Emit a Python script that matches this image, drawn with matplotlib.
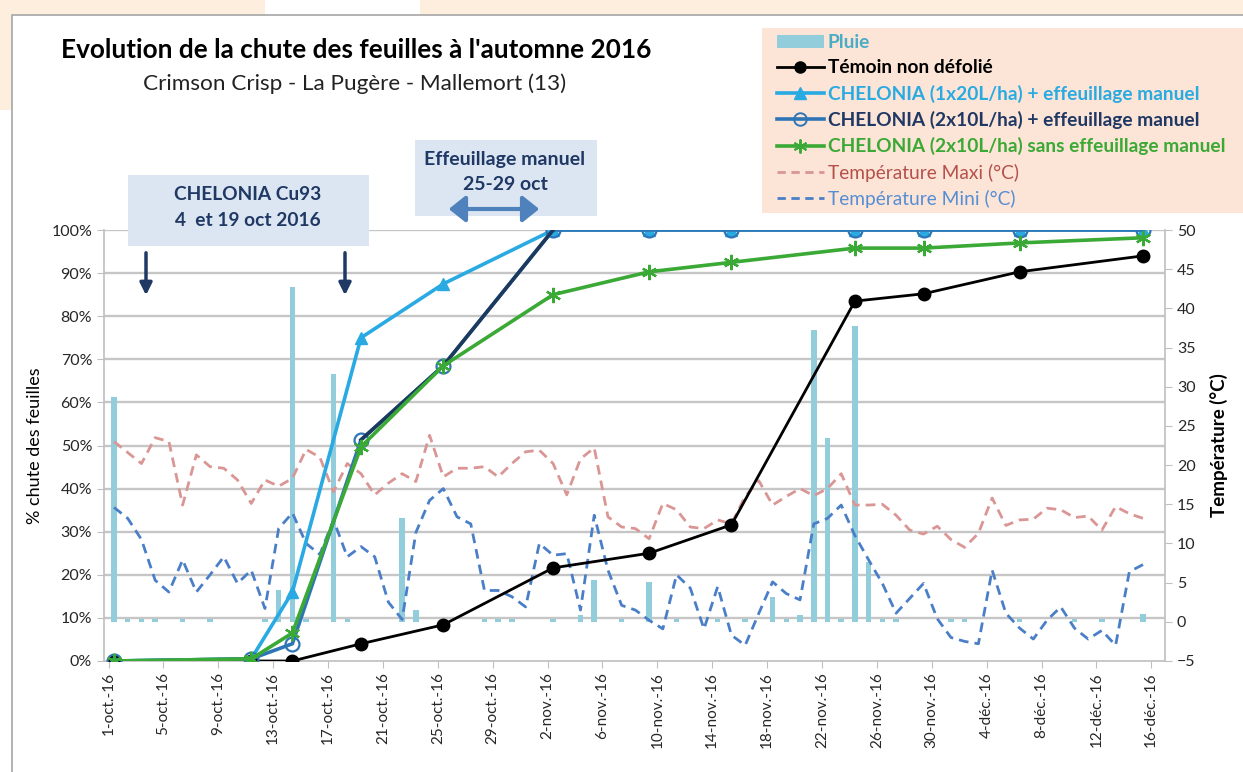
import numpy as np
import pandas as pd
import matplotlib
matplotlib.use('Agg')
import matplotlib.pyplot as plt
from matplotlib.patches import Rectangle, FancyArrowPatch, Patch
from matplotlib.lines import Line2D

plt.rcParams['font.family'] = ['Lato', 'DejaVu Sans']

# Daily weather, 1 oct -> 15 dec 2016
start = pd.Timestamp('2016-10-01')
days = pd.date_range('2016-10-01', '2016-12-15')

rain = [28.7, 0.3, 0.3, 0.3, 0, 0.3, 0, 0.3, 0, 0, 0, 0.3, 4.1, 42.7, 0.3, 0,
        31.6, 0.3, 0, 0, 0, 13.2, 1.5, 0, 0, 0, 0, 0.3, 0.3, 0.3, 0, 0,
        0.3, 0, 0.9, 5.3, 0, 0.3, 0, 5.1, 0, 0.3, 0, 0, 0.3, 0, 0.3, 0,
        3.2, 0.3, 0.9, 37.3, 23.4, 0.3, 37.8, 7.6, 0.3, 0.3, 0, 0, 0, 0.3,
        0.3, 0, 0, 0, 0.3, 0, 0, 0, 0.3, 0, 0.3, 0, 0, 1.0]

t_max = [23.0, 21.6, 20.2, 23.5, 23.0, 14.9, 21.3, 19.8, 19.6, 18.1, 15.1, 18.1,
         17.3, 18.3, 22.0, 21.0, 16.6, 20.2, 18.9, 16.2, 17.7, 18.9, 17.9, 23.8,
         18.5, 19.6, 19.6, 19.8, 18.5, 20.2, 21.7, 21.9, 20.2, 16.2, 20.8, 22.2,
         13.4, 12.1, 11.9, 10.6, 15.1, 14.3, 12.1, 11.9, 13.0, 12.5, 16.0, 18.0,
         14.9, 16.0, 17.0, 16.1, 17.0, 18.9, 14.9, 14.9, 15.0, 13.6, 11.7, 11.2,
         12.2, 10.5, 9.5, 11.3, 15.8, 12.3, 13.0, 13.1, 14.5, 14.3, 13.3, 13.5,
         11.7, 14.7, 13.8, 13.2]

t_min = [14.6, 13.2, 10.5, 5.3, 3.8, 7.9, 3.8, 6.0, 8.3, 4.9, 6.6, 1.7,
         11.9, 13.9, 10.0, 8.6, 13.0, 8.3, 9.6, 8.3, 2.5, 0.3, 11.4, 15.5,
         17.0, 13.4, 12.5, 4.0, 4.0, 3.2, 1.9, 10.0, 8.5, 8.7, 1.5, 13.6,
         6.6, 2.1, 1.5, 0.2, -0.9, 6.0, 4.3, -0.9, 4.5, -1.7, -3.0, 1.1,
         5.1, 3.6, 2.8, 12.5, 13.2, 14.9, 11.0, 7.9, 4.9, 1.1, 3.0, 4.9,
         0.4, -2.0, -2.5, -2.8, 6.6, 1.1, -0.8, -2.2, 0.2, 1.9, -0.8, -2.2,
         -1.1, -3.0, 6.4, 7.3]

# Leaf fall observations (%)
obs_dates = pd.to_datetime(['2016-10-01', '2016-10-11', '2016-10-14', '2016-10-19',
                            '2016-10-25', '2016-11-02', '2016-11-09', '2016-11-15',
                            '2016-11-24', '2016-11-29', '2016-12-06', '2016-12-15'])
temoin = [0, 0, 0, 4, 8.4, 21.6, 25, 31.6, 83.5, 85.2, 90.3, 94]
chel_1x20 = [0, 0.5, 16, 75, 87.5, 100, 100, 100, 100, 100, 100, 100]
chel_2x10 = [0, 0.5, 4, 51.3, 68.5, 100, 100, 100, 100, 100, 100, 100]
chel_2x10_sans = [0, 0.5, 6.5, 49.7, 68.5, 85, 90.3, 92.5, 95.8, 95.8, 97, 98.2]

tick_dates = pd.date_range('2016-10-01', '2016-12-16', freq='4D')
tick_labels = ['1-oct.-16', '5-oct.-16', '9-oct.-16', '13-oct.-16', '17-oct.-16',
               '21-oct.-16', '25-oct.-16', '29-oct.-16', '2-nov.-16', '6-nov.-16',
               '10-nov.-16', '14-nov.-16', '18-nov.-16', '22-nov.-16', '26-nov.-16',
               '30-nov.-16', '4-déc.-16', '8-déc.-16', '12-déc.-16', '16-déc.-16']

W, H = 1243, 772
def fx(px):
    return px / W
def fy(py):
    return 1 - py / H

xd = np.array((days - start).days) + 0.4
xo = np.array((obs_dates - start).days) + 0.4
xt = np.array((tick_dates - start).days)

fig = plt.figure(figsize=(W / 100, H / 100), dpi=100)

# slide decorations
peach = '#fdeede'
for r in [(0, fy(15), fx(265), 15 / H), (fx(420), fy(15), 1 - fx(420), 15 / H),
          (0, fy(110), fx(12), 95 / H)]:
    fig.add_artist(Rectangle(r[:2], r[2], r[3], transform=fig.transFigure,
                             facecolor=peach, edgecolor='none', zorder=0))
fig.add_artist(Rectangle((fx(12), -0.01), 1.02 - fx(12), fy(15) + 0.01,
                         transform=fig.transFigure, facecolor='none',
                         edgecolor='#a6a6a6', lw=1.2, zorder=1))

ax = fig.add_axes([fx(104), fy(661), fx(1165) - fx(104), (661 - 230) / H])
ax2 = ax.twinx()
ax.set_zorder(3)
ax.patch.set_visible(False)

grid_col = '#c6c6c6'
axis_col = '#bfbfbf'
lab_col = '#262626'

# secondary axis: rain + temperatures
for k in range(1, 11):
    ax2.axhline(-5 + 5.5 * k, color=grid_col, lw=1.7, zorder=0)
ax2.bar(xd, rain, width=0.4, color='#92cddc', zorder=2)
ax2.plot(xd, t_max, color='#d99694', lw=2, ls=(0, (3.5, 2.2)), zorder=3)
ax2.plot(xd, t_min, color='#4a7fc8', lw=2, ls=(0, (3.5, 2.2)), zorder=3)
ax2.set_ylim(-5, 50)
ax2.set_yticks(range(-5, 51, 5))
ax2.tick_params(axis='y', labelsize=11.5, colors=lab_col, length=5, color=axis_col)
ax2.set_ylabel('Température (°C)', fontsize=13.5, fontweight='bold', labelpad=10)

# primary axis: leaf fall
ax.plot(xo, temoin, color='black', lw=2, marker='o', ms=9, zorder=4)
ax.plot(xo, chel_1x20, color='#2aaae2', lw=2.6, marker='^', ms=9, zorder=5)
ax.plot(xo, chel_2x10, color='#2e75b6', lw=2.6, marker='o', ms=10,
        mfc='none', mec='#2e75b6', mew=1.6, zorder=6)
ax.plot(xo[3:6], chel_2x10[3:6], color='#1c3a5e', lw=2.6, zorder=6)
ax.plot(xo, chel_2x10_sans, color='#3aa935', lw=2.6, marker=(6, 2, 0), ms=11,
        mew=1.6, zorder=7)

ax.set_ylim(0, 100)
ax.set_yticks(range(0, 101, 10))
ax.set_yticklabels([f'{v}%' for v in range(0, 101, 10)])
ax.set_xlim(-0.33, 77.0)
ax.set_xticks(xt)
ax.set_xticklabels(tick_labels, rotation=90)
ax.tick_params(axis='y', labelsize=11.5, colors=lab_col, length=5, color=axis_col)
ax.tick_params(axis='x', labelsize=11, colors=lab_col, length=5, color=axis_col, pad=3)
ax.set_ylabel('% chute des feuilles', fontsize=13, labelpad=6)

for a in (ax, ax2):
    for s in a.spines.values():
        s.set_color(axis_col)
        s.set_linewidth(1.2)
    a.spines['top'].set_visible(False)
ax.spines['right'].set_visible(False)
ax2.spines['left'].set_visible(False)
ax2.spines['bottom'].set_visible(False)

# titles
fig.text(fx(356), fy(50), "Evolution de la chute des feuilles à l'automne 2016",
         ha='center', va='center', fontsize=18.8, fontweight='bold')
fig.text(fx(355), fy(84), 'Crimson Crisp - La Pugère - Mallemort (13)',
         ha='center', va='center', fontsize=16.2, color='#222222')

# annotation boxes
box_col = '#dce6f2'
navy = '#1f3864'
fig.add_artist(Rectangle((fx(128), fy(246)), fx(369) - fx(128), (246 - 175) / H,
                         transform=fig.transFigure, facecolor=box_col,
                         edgecolor='none', zorder=10))
fig.text(fx(248), fy(195), 'CHELONIA Cu93', ha='center', va='center',
         fontsize=13.8, fontweight='bold', color=navy, zorder=11)
fig.text(fx(248), fy(220), '4  et 19 oct 2016', ha='center', va='center',
         fontsize=13.8, fontweight='bold', color=navy, zorder=11)
for px in (146, 345):
    fig.add_artist(FancyArrowPatch((fx(px), fy(250)), (fx(px), fy(298)),
                                   transform=fig.transFigure, arrowstyle='-|>',
                                   mutation_scale=18, lw=2.5, color=navy, zorder=11))

fig.add_artist(Rectangle((fx(415), fy(216)), fx(597) - fx(415), (216 - 140) / H,
                         transform=fig.transFigure, facecolor=box_col,
                         edgecolor='none', zorder=10))
fig.text(fx(505), fy(160), 'Effeuillage manuel', ha='center', va='center',
         fontsize=14, fontweight='bold', color=navy, zorder=11)
fig.text(fx(505), fy(185), '25-29 oct', ha='center', va='center',
         fontsize=14, fontweight='bold', color=navy, zorder=11)
fig.add_artist(FancyArrowPatch((fx(446), fy(209)), (fx(542), fy(209)),
                               transform=fig.transFigure,
                               arrowstyle='<|-|>,head_length=0.5,head_width=0.4',
                               mutation_scale=20, lw=3, color='#4f81bd', zorder=11))

# legend
fig.add_artist(Rectangle((fx(762), fy(213)), 1 - fx(762), (213 - 28) / H,
                         transform=fig.transFigure, facecolor='#fce4d6',
                         edgecolor='none', zorder=5))
handles = [
    Patch(facecolor='#92cddc', edgecolor='none'),
    Line2D([], [], color='black', lw=2, marker='o', ms=8),
    Line2D([], [], color='#2aaae2', lw=2.6, marker='^', ms=8),
    Line2D([], [], color='#2e75b6', lw=2.6, marker='o', ms=9, mfc='none', mew=1.4),
    Line2D([], [], color='#3aa935', lw=2.6, marker=(6, 2, 0), ms=10, mew=1.4),
    Line2D([], [], color='#d99694', lw=2, ls=(0, (3, 2))),
    Line2D([], [], color='#4a7fc8', lw=2, ls=(0, (3, 2))),
]
labels = ['Pluie', 'Témoin non défolié', 'CHELONIA (1x20L/ha) + effeuillage manuel',
          'CHELONIA (2x10L/ha) + effeuillage manuel',
          'CHELONIA (2x10L/ha) sans effeuillage manuel',
          'Température Maxi (°C)', 'Température Mini (°C)']
text_colors = ['#4bacc6', 'black', '#29abe2', navy, '#3aa935', '#b5504b', '#558ed5']
weights = ['bold', 'bold', 'bold', 'bold', 'bold', 'normal', 'normal']
leg = fig.legend(handles, labels, loc='upper left',
                 bbox_to_anchor=(fx(777), fy(34)), frameon=False, fontsize=13.8,
                 handlelength=2.45, handletextpad=0.2, labelspacing=0.43,
                 borderaxespad=0, borderpad=0)
for t, c, w in zip(leg.get_texts(), text_colors, weights):
    t.set_color(c)
    t.set_fontweight(w)
leg.set_zorder(6)

fig.savefig('out.png', dpi=100)
